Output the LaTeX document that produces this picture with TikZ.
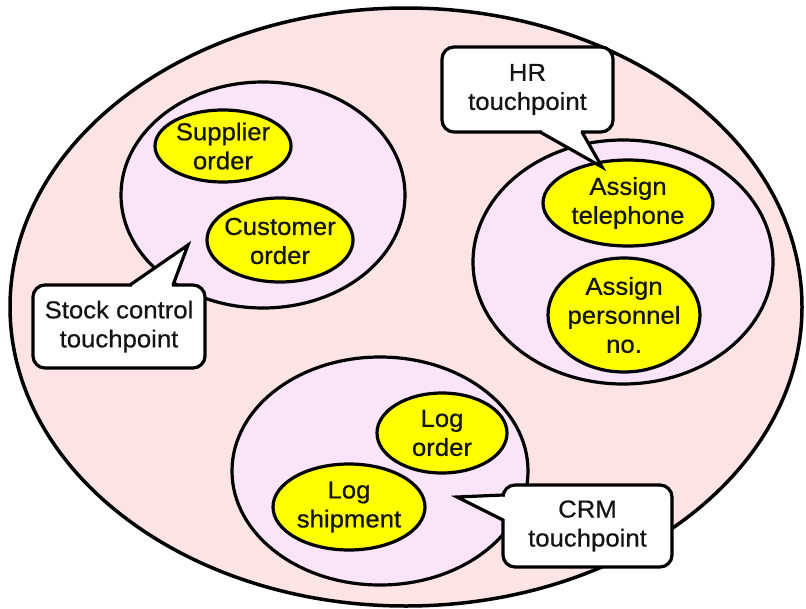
\documentclass[tikz,border=0pt]{standalone}
\usepackage{fontspec}
\setmainfont{Liberation Sans}[FakeStretch=1.05,FakeBold=0.6]
\definecolor{outerpink}{RGB}{252,228,228}
\definecolor{innerlilac}{RGB}{250,228,250}
\definecolor{taskyellow}{RGB}{255,255,0}
\definecolor{inkgrey}{RGB}{20,20,20}
\begin{document}
\begin{tikzpicture}[x=1pt,y=-1pt,line width=3pt,
  tasktext/.style={font=\fontsize{24.5}{29}\selectfont,align=center,text=inkgrey,inner sep=0pt},
  bizzone/.style={draw=black,fill=innerlilac,line width=3.2pt},
  taskshape/.style={draw=black,fill=taskyellow,line width=3.2pt},
  tpbox/.style={draw=black,fill=white,rounded corners=12pt,line width=3.2pt,inner sep=0pt,
    font=\fontsize{24.5}{29}\selectfont,align=center,text=inkgrey},
  tpline/.style={draw=black,line width=3.2pt,line cap=round,line join=miter}]
\useasboundingbox (0,0) rectangle (806,608);

% enterprise boundary
\draw[fill=outerpink,line width=3.5pt] (406,307) ellipse [x radius=396pt,y radius=299pt];

% three business domains
\draw[bizzone] (263,195) ellipse [x radius=142pt,y radius=113pt];
\draw[bizzone] (623,262) ellipse [x radius=150pt,y radius=122pt];
\draw[bizzone] (380,471) ellipse [x radius=148pt,y radius=114pt];

% tasks
\draw[taskshape] (223,146) ellipse [x radius=68pt,y radius=36pt];
\node[tasktext] (supplier) at (223,146) {Supplier\\order};
\draw[taskshape] (280,240) ellipse [x radius=73pt,y radius=42pt];
\node[tasktext] (customer) at (280,241) {Customer\\order};
\draw[taskshape] (628,203) ellipse [x radius=85pt,y radius=43pt];
\node[tasktext] (telephone) at (628,203) {Assign\\telephone};
\draw[taskshape] (624,315) ellipse [x radius=76pt,y radius=57pt];
\node[tasktext] (personnel) at (624,315) {Assign\\personnel\\no.};
\draw[taskshape] (442,433) ellipse [x radius=65pt,y radius=40pt];
\node[tasktext] (logorder) at (442,433) {Log\\order};
\draw[taskshape] (349,507) ellipse [x radius=76pt,y radius=43pt];
\node[tasktext] (logship) at (349,507) {Log\\shipment};

% touchpoint callouts
\node[tpbox,minimum width=172pt,minimum height=83pt] (stock) at (119,326.5) {Stock control\\touchpoint};
\coordinate (stocktip) at (188,245);
\fill[white] (130,285) -- (stocktip) -- (173,285) -- cycle;
\fill[white] (131.5,284) rectangle (171.5,288);
\draw[tpline] (130,285) -- (stocktip) -- (173,285);

\node[tpbox,minimum width=171pt,minimum height=85pt] (hr) at (527.5,89.5) {HR\\touchpoint};
\coordinate (hrtip) at (602,167);
\fill[white] (540,132) -- (hrtip) -- (582,132) -- cycle;
\fill[white] (541.5,129) rectangle (580.5,133);
\draw[tpline] (540,132) -- (hrtip) -- (582,132);

\node[tpbox,minimum width=169pt,minimum height=82pt] (crm) at (587.5,526) {CRM\\touchpoint};
\coordinate (crmtip) at (457,497);
\fill[white] (503,495) -- (crmtip) -- (503,520) -- cycle;
\fill[white] (502,496.5) rectangle (506,518.5);
\draw[tpline] (503,495) -- (crmtip) -- (503,520);
\end{tikzpicture}
\end{document}
